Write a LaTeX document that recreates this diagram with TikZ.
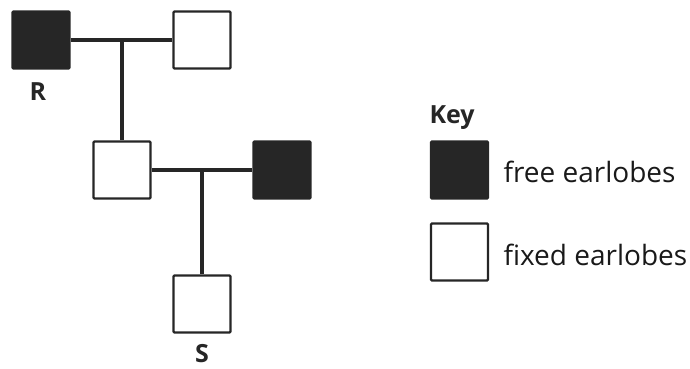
\documentclass[tikz,border=0pt]{standalone}
\usepackage{fontspec}
\setmainfont{Open Sans}
\usetikzlibrary{positioning}

\tikzset{
  person/.style={draw=black!85, line width=2.4pt, minimum size=57pt, inner sep=0pt, rounded corners=1pt},
  free/.style={person, fill=black!85},
  fixed/.style={person, fill=white},
  link/.style={draw=black!85, line width=3.6pt},
  tag/.style={font=\fontsize{25}{30}\selectfont\bfseries, text=black!85, anchor=base},
  keytext/.style={font=\fontsize{28}{33}\selectfont, text=black!90, anchor=base west}
}

\begin{document}
\begin{tikzpicture}[x=1pt, y=-1pt]
			\useasboundingbox (0,0) rectangle (690,368);
			% first generation
			\node [free] (R) at (41,40) {};
			\node [fixed] (wife) at (202,40) {};
			\node [tag] (Rlab) at (38,100) {R};
			% second generation
			\node [fixed] (son) at (122,170) {};
			\node [free] (spouse) at (282,170) {};
			\node [fixed] (S) at (202,304) {};
			\node [tag] (Slab) at (202,362.5) {S};
			% marriage and offspring lines
			\draw [link] (R.east) -- (wife.west);
			\draw [link] (R.east -| son.north) -- (son.north);
			\draw [link] (son.east) -- (spouse.west);
			\draw [link] (son.east -| S.north) -- (S.north);
			% key
			\node [tag, anchor=base west] (key) at (426,123) {Key};
			\node [free] (keyfree) at (459.5,170) {};
			\node [fixed] (keyfixed) at (459.5,252) {};
			\node [keytext] (freelab) at (500,182) {free earlobes};
			\node [keytext] (fixedlab) at (500,265) {fixed earlobes};
		\end{tikzpicture}
\end{document}
